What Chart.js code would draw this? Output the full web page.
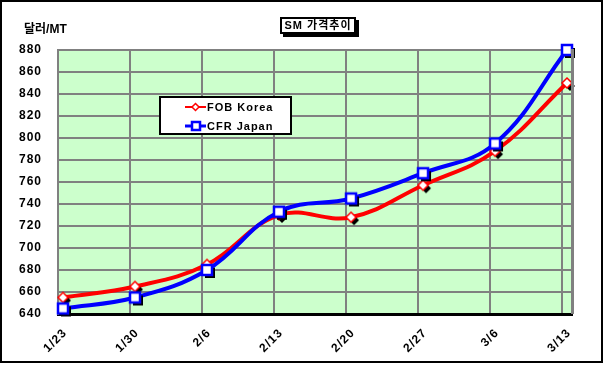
<!DOCTYPE html>
<html>
<head>
<meta charset="utf-8">
<script src="https://cdn.jsdelivr.net/npm/chart.js@4"></script>
<style>
  body { margin: 0; background: #fff; }
  canvas { display: block; }
</style>
</head>
<body>
<canvas id="chart" width="604" height="367"></canvas>
<script>
// 날짜 (x축 라벨)
const dates = ['1/23', '1/30', '2/6', '2/13', '2/20', '2/27', '3/6', '3/13']
// 가격 (달러/MT)
const fobKorea = [655, 665, 685, 730, 728, 757, 788, 850]
const cfrJapan = [645, 655, 680, 733, 745, 768, 795, 880]
const seriesNames = ['FOB Korea', 'CFR Japan']
const yMin = 640, yMax = 880, yStep = 20

const FONT = '"Liberation Sans", Arial, "Noto Sans CJK KR", sans-serif'

// 마커 이미지 (그림자 포함)
const makeMarker = (kind) => {
    const c = document.createElement('canvas')
    c.width = 22; c.height = 22
    const g = c.getContext('2d')
    const shape = (dx, dy) => {
        g.beginPath()
        if (kind === 'diamond') {
            g.moveTo(11 + dx, 6 + dy); g.lineTo(16 + dx, 11 + dy)
            g.lineTo(11 + dx, 16 + dy); g.lineTo(6 + dx, 11 + dy)
            g.closePath()
        } else {
            g.rect(6 + dx, 6 + dy, 10, 10)
        }
    }
    shape(3, 3); g.fillStyle = '#000'; g.fill()
    shape(0, 0); g.fillStyle = '#fff'; g.fill()
    g.lineWidth = kind === 'diamond' ? 1.5 : 2.5
    g.strokeStyle = kind === 'diamond' ? '#ff0000' : '#0000ff'
    g.stroke()
    return c
}
const diamond = makeMarker('diamond')
const square = makeMarker('square')

const toPoints = (arr) => arr.map((v, i) => ({ x: i, y: v }))

const ctx = document.getElementById('chart')

const decor = {
    id: 'decor',
    beforeDraw(chart) {
        const { ctx, chartArea: a } = chart
        ctx.save()
        ctx.fillStyle = '#fff'
        ctx.fillRect(0, 0, chart.width, chart.height)
        ctx.fillStyle = '#ccffcc'
        ctx.fillRect(a.left, a.top, a.right - a.left, a.bottom - a.top)
        ctx.restore()
        // 글자 간격 (엑셀 느낌) - 눈금 라벨에도 적용
        ctx.letterSpacing = '1px'
    },
    afterDraw(chart) {
        const { ctx, chartArea: a } = chart
        ctx.save()
        // 오른쪽 테두리
        ctx.strokeStyle = '#808080'; ctx.lineWidth = 3
        ctx.beginPath(); ctx.moveTo(a.right + 0.5, a.top - 1); ctx.lineTo(a.right + 0.5, a.bottom); ctx.stroke()

        // 제목
        ctx.fillStyle = '#000'
        ctx.fillRect(283, 20, 76, 17)
        ctx.fillStyle = '#fff'
        ctx.fillRect(280, 17, 76, 17)
        ctx.strokeStyle = '#000'; ctx.lineWidth = 2
        ctx.strokeRect(281, 18, 74, 15)
        ctx.fillStyle = '#000'
        ctx.font = 'bold 11px ' + FONT
        ctx.letterSpacing = '1px'
        ctx.textAlign = 'center'; ctx.textBaseline = 'middle'
        ctx.fillText('SM 가격추이', 318, 26)

        // y축 제목
        ctx.font = 'bold 12px ' + FONT
        ctx.letterSpacing = '0px'
        ctx.textAlign = 'left'
        ctx.fillText('달러/MT', 24, 30)

        // 범례
        ctx.fillStyle = '#fff'
        ctx.fillRect(159, 96, 133, 39)
        ctx.strokeStyle = '#000'; ctx.lineWidth = 2
        ctx.strokeRect(160, 97, 131, 37)
        const rows = [
            { y: 107, color: '#ff0000' },
            { y: 126, color: '#0000ff' }
        ]
        rows.forEach((r, i) => {
            ctx.strokeStyle = r.color; ctx.lineWidth = i ? 3 : 2
            ctx.beginPath(); ctx.moveTo(185, r.y); ctx.lineTo(206, r.y); ctx.stroke()
            ctx.fillStyle = '#fff'
            ctx.lineWidth = i ? 2.5 : 1.5
            ctx.beginPath()
            if (i === 0) {
                ctx.moveTo(195.5, r.y - 3.5); ctx.lineTo(199, r.y); ctx.lineTo(195.5, r.y + 3.5); ctx.lineTo(192, r.y)
                ctx.closePath()
            } else {
                ctx.rect(192, r.y - 4, 8, 8)
            }
            ctx.fill(); ctx.stroke()
            ctx.fillStyle = '#000'
            ctx.font = 'bold 11px ' + FONT
            ctx.letterSpacing = '1px'
            ctx.textAlign = 'left'; ctx.textBaseline = 'middle'
            ctx.fillText(seriesNames[i], 207, r.y + 0.5)
        })

        // 바깥 테두리
        ctx.strokeStyle = '#000'; ctx.lineWidth = 2
        ctx.strokeRect(1, 1, 601, 361)
        ctx.restore()
    }
}

const chart = new Chart(ctx, {
    type: 'line',
    data: {
        datasets: [{
            label: seriesNames[1],
            data: toPoints(cfrJapan),
            borderColor: '#0000ff',
            borderWidth: 4,
            tension: 0.4,
            pointStyle: square,
            clip: false,
            order: 0
        }, {
            label: seriesNames[0],
            data: toPoints(fobKorea),
            borderColor: '#ff0000',
            borderWidth: 4,
            tension: 0.4,
            pointStyle: diamond,
            clip: false,
            order: 1
        }]
    },
    options: {
        responsive: false,
        animation: false,
        layout: { padding: { top: 50, right: 32, left: 0, bottom: 0 } },
        plugins: { legend: { display: false }, tooltip: { enabled: false } },
        scales: {
            x: {
                type: 'linear',
                min: -0.0694,
                max: 7.0694,
                afterBuildTicks: (scale) => {
                    scale.ticks = dates.map((d, i) => ({ value: i - 0.0694 }))
                },
                afterFit: (scale) => { scale.height = 53 },
                grid: { color: '#808080', lineWidth: 2, drawTicks: false },
                border: { color: '#000', width: 3 },
                ticks: {
                    autoSkip: false,
                    maxRotation: 45,
                    minRotation: 45,
                    padding: 12,
                    labelOffset: 7,
                    color: '#000',
                    font: { family: FONT, size: 12, weight: 'bold' },
                    callback: (v, i) => dates[i]
                }
            },
            y: {
                min: yMin,
                max: yMax,
                afterFit: (scale) => { scale.width = 58 },
                grid: { color: '#808080', lineWidth: 2, drawTicks: false },
                border: { color: '#808080', width: 2 },
                ticks: {
                    stepSize: yStep,
                    padding: 16,
                    color: '#000',
                    font: { family: FONT, size: 12, weight: 'bold' }
                }
            }
        }
    },
    plugins: [decor]
})
</script>
</body>
</html>
